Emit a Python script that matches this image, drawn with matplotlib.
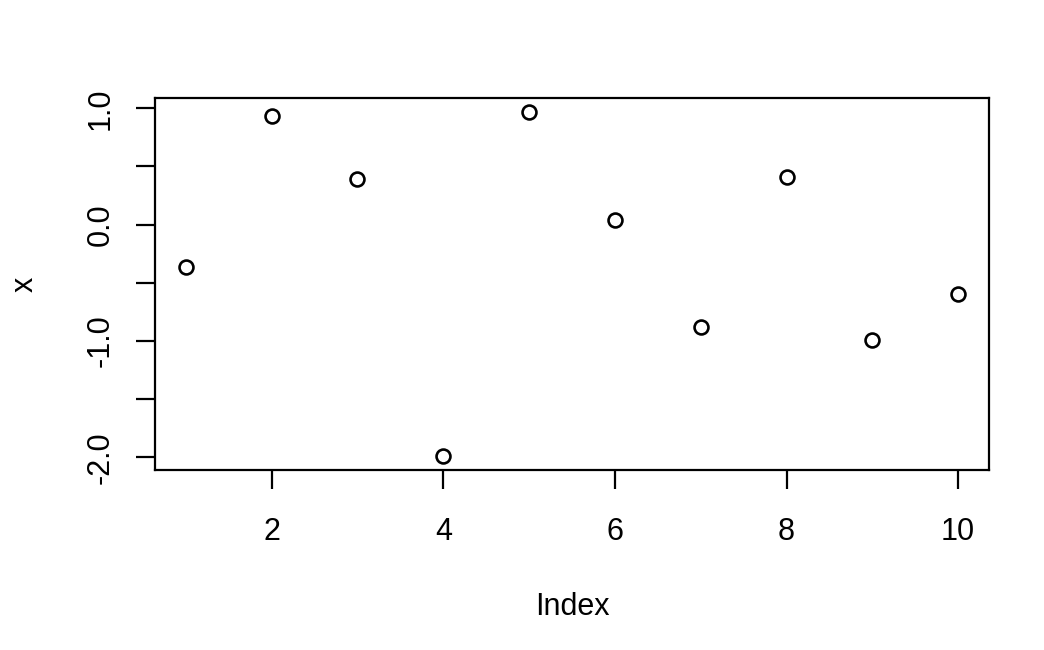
import numpy as np
import matplotlib
matplotlib.use('Agg')
from matplotlib import pyplot as plt

index = [1, 2, 3, 4, 5, 6, 7, 8, 9, 10]
x = [-0.36, 0.93, 0.39, -1.99, 0.97, 0.04, -0.88, 0.41, -0.99, -0.60]

xticks = [2, 4, 6, 8, 10]
yticks = [1.0, 0.5, 0.0, -0.5, -1.0, -1.5, -2.0]
ylabels = ['1.0', '', '0.0', '', '-1.0', '', '-2.0']

plt.rcParams['font.family'] = ['Liberation Sans', 'DejaVu Sans']

W, H = 1044, 650
fig = plt.figure(figsize=(W / 100, H / 100), dpi=100)
ax = fig.add_axes([155 / W, 1 - 470 / H, (989 - 155) / W, (470 - 98) / H])

ax.plot(index, x, 'o', markersize=10, markerfacecolor='none',
        markeredgecolor='black', markeredgewidth=1.9)

# R style 4% padding
xr = max(index) - min(index)
yr = max(x) - min(x)
ax.set_xlim(min(index) - 0.04 * xr, max(index) + 0.04 * xr)
ax.set_ylim(min(x) - 0.04 * yr, max(x) + 0.04 * yr)

ax.set_xticks(xticks)
ax.set_xticklabels([str(t) for t in xticks])
ax.set_yticks(yticks)
ax.set_yticklabels(ylabels, rotation=90, va='center')

for s in ax.spines.values():
    s.set_linewidth(1.6)
ax.tick_params(length=13.5, width=1.6, labelsize=22)
ax.tick_params(axis='x', pad=20)
ax.tick_params(axis='y', pad=15)

fig.text(572 / W, 1 - 607 / H, 'Index', fontsize=22, ha='center', va='center')
fig.text(25 / W, 1 - 284 / H, 'x', fontsize=22, ha='center', va='center', rotation=90)

fig.savefig('out.png', dpi=100)
